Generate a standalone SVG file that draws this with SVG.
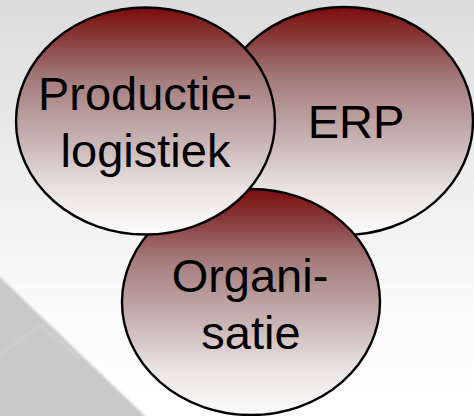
<svg xmlns="http://www.w3.org/2000/svg" width="474" height="416" viewBox="0 0 474 416">
  <defs>
    <linearGradient id="bg" x1="0" y1="0" x2="0" y2="1">
      <stop offset="0" stop-color="#dcdcdc"/>
      <stop offset="0.75" stop-color="#fbfbfb"/>
      <stop offset="1" stop-color="#fefefe"/>
    </linearGradient>
    <linearGradient id="fillRed" x1="0" y1="0" x2="0" y2="1">
      <stop offset="0" stop-color="#7a0c0c"/>
      <stop offset="0.15" stop-color="#8a4040"/>
      <stop offset="0.31" stop-color="#a37a7a"/>
      <stop offset="0.59" stop-color="#c8b4b4"/>
      <stop offset="0.8" stop-color="#ebe3e3"/>
      <stop offset="1" stop-color="#fbfbfb"/>
    </linearGradient>
    <filter id="soft" x="-10%" y="-10%" width="120%" height="120%">
      <feGaussianBlur stdDeviation="1.2"/>
    </filter>
    <style>
      .node ellipse { fill: url(#fillRed); stroke: #000; stroke-width: 2.4; }
      .node text { font-family: "Liberation Sans", Arial, sans-serif; font-size: 47px; fill: #000; text-anchor: middle; }
    </style>
  </defs>
  <rect x="0" y="0" width="474" height="416" fill="url(#bg)"/>
  <g id="backdrop" filter="url(#soft)">
    <polygon points="-5,273 0,277 145,416 148,420 -5,420" fill="#c9c9c9"/>
    <polyline points="0,355 40,325 80,358" fill="none" stroke="#d6d6d6" stroke-width="2" opacity="0.7"/>
  </g>
  <g id="connectors"></g>
  <g id="erp" class="node">
    <ellipse cx="344" cy="121" rx="129" ry="114"/>
    <text x="356" y="138">ERP</text>
  </g>
  <g id="organisatie" class="node">
    <ellipse cx="251" cy="302" rx="129" ry="113"/>
    <text x="250" y="292">Organi-</text>
    <text x="251" y="349">satie</text>
  </g>
  <g id="productielogistiek" class="node">
    <ellipse cx="145.5" cy="121" rx="129.5" ry="113.5"/>
    <text x="145" y="110">Productie-</text>
    <text x="145.5" y="167">logistiek</text>
  </g>
</svg>
